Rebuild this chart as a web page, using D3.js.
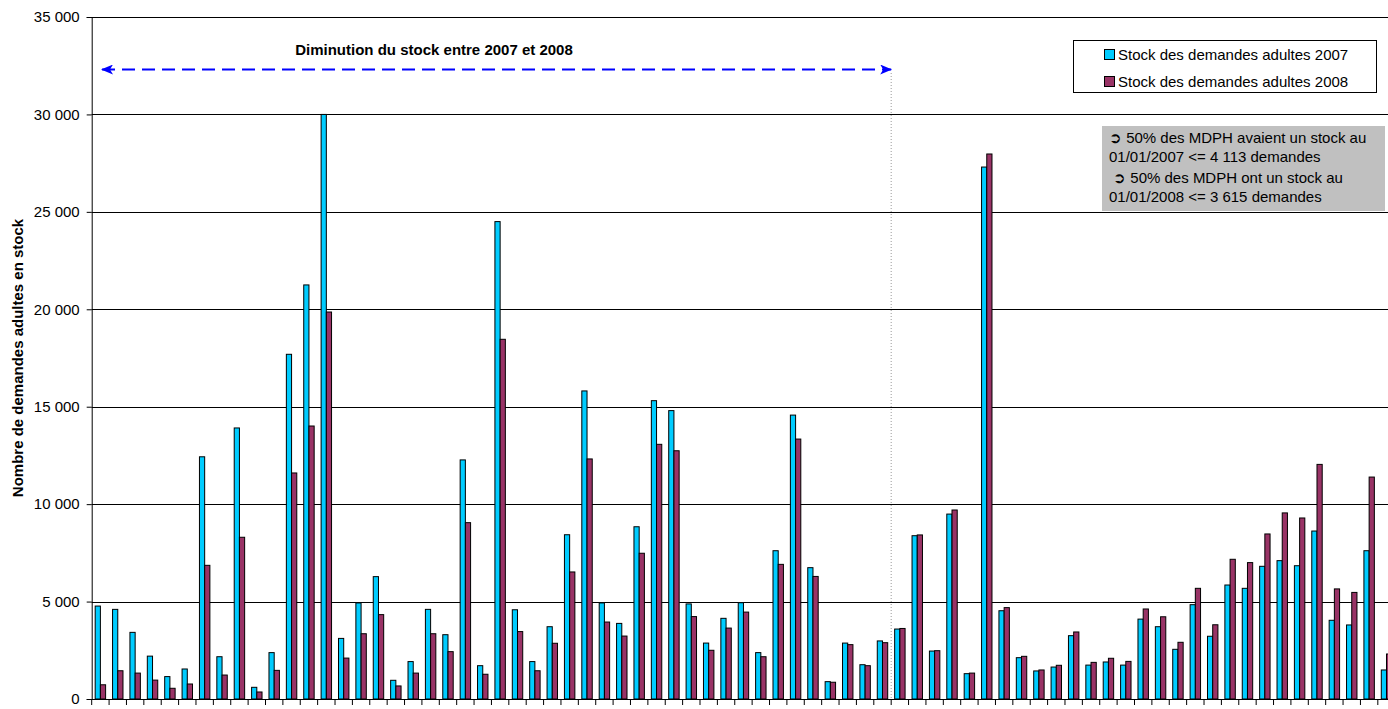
<!DOCTYPE html>
<html><head><meta charset="utf-8">
<script src="https://cdn.jsdelivr.net/npm/d3@7"></script>
<style>
html,body{margin:0;padding:0;background:#fff;}
svg{display:block;font-family:"Liberation Sans",Arial,sans-serif;}
</style></head>
<body><svg id="c" width="1388" height="709"></svg>
<script>
// --- data ---
const categories = d3.range(75).map(i => "MDPH " + (i + 1));
const stock2007 = [4770,4600,3420,2200,1150,1540,12430,2170,13910,600,
  2380,17690,21250,30000,3110,4930,6280,960,1920,4600,
  3300,12270,1710,24500,4580,1920,3710,8430,15810,4930,
  3880,8840,15310,14800,4880,2870,4140,4940,2380,7610,
  14570,6740,890,2870,1760,2980,3590,8380,2460,9490,
  1300,27300,4530,2120,1440,1640,3250,1740,1900,1740,
  4100,3710,2550,4840,3220,5850,5680,6810,7100,6840,
  8620,4040,3800,7610,1490];
const stock2008 = [730,1450,1330,970,550,770,6860,1230,8300,360,
  1470,11600,14010,19860,2100,3350,4330,670,1330,3350,
  2430,9050,1270,18460,3460,1450,2860,6520,12320,3950,
  3230,7480,13070,12740,4230,2500,3640,4460,2170,6910,
  13340,6290,860,2790,1710,2890,3620,8420,2480,9700,
  1330,27970,4690,2190,1490,1730,3440,1880,2090,1930,
  4620,4220,2910,5680,3810,7170,7000,8470,9550,9290,
  12040,5650,5470,11390,2310];
const seriesNames = ["Stock des demandes adultes 2007","Stock des demandes adultes 2008"];
const yTicks = [0,5000,10000,15000,20000,25000,30000,35000];
const yTitle = "Nombre de demandes adultes en stock";
const arrowLabel = "Diminution du stock entre 2007 et 2008";
const arrowEndCategory = 46; // boundary index where the decrease zone ends
const noteLines = ["\u27B2 50% des MDPH avaient un stock au","01/01/2007 <= 4 113 demandes"," \u27B2 50% des MDPH ont un stock au","01/01/2008 <= 3 615 demandes"];

// --- layout ---
const colors = ["#00CCFF","#993366"];
const svg = d3.select("#c");
const x0 = 91.7, step = 17.38;
const yTop = 17, yBottom = 699, plotRight = 1388;
const x = d3.scaleBand().domain(categories).range([x0, x0 + step * categories.length]).paddingInner(0.4).paddingOuter(0.2);
const xs = d3.scaleBand().domain([0,1]).range([0, x.bandwidth()]);
const y = d3.scaleLinear().domain([0,35000]).range([yBottom, yTop]);
const fmt = v => d3.format(",")(v).replace(/,/g, " ");

// gridlines
svg.append("g").selectAll("line").data(yTicks.filter(d => d > 0)).join("line")
  .attr("x1", x0).attr("x2", plotRight)
  .attr("y1", d => Math.round(y(d)) + 0.5).attr("y2", d => Math.round(y(d)) + 0.5)
  .attr("stroke", "#000").attr("stroke-width", 1);

// dotted vertical separator
const xSep = x0 + step * arrowEndCategory;
svg.append("line").attr("x1", xSep).attr("x2", xSep).attr("y1", 73).attr("y2", yBottom)
  .attr("stroke", "#999").attr("stroke-width", 1).attr("stroke-dasharray", "1,2");

// bars
const data = categories.map((c, i) => ({c, v: [stock2007[i], stock2008[i]]}));
const g = svg.append("g").selectAll("g").data(data).join("g")
  .attr("transform", d => `translate(${x(d.c)},0)`);
g.selectAll("rect").data(d => d.v.map((v, k) => ({v, k}))).join("rect")
  .attr("x", d => xs(d.k)).attr("width", xs.bandwidth())
  .attr("y", d => y(d.v)).attr("height", d => y(0) - y(d.v))
  .attr("fill", d => colors[d.k]).attr("stroke", "#000").attr("stroke-width", 1);

// axes
const yAxis = svg.append("g").attr("transform", `translate(${x0},0)`)
  .call(d3.axisLeft(y).tickValues(yTicks).tickFormat(fmt).tickSize(5).tickPadding(7));
yAxis.select(".domain").attr("stroke", "#000");
yAxis.selectAll("text").attr("font-size", 15).attr("fill", "#000").attr("font-family", "Liberation Sans, Arial, sans-serif");

const boundaries = d3.range(categories.length + 1).map(i => x0 + step * i);
svg.append("line").attr("x1", x0).attr("x2", plotRight).attr("y1", yBottom + 0.5).attr("y2", yBottom + 0.5).attr("stroke", "#000");
svg.append("g").selectAll("line").data(boundaries).join("line")
  .attr("x1", d => d).attr("x2", d => d).attr("y1", yBottom).attr("y2", yBottom + 6)
  .attr("stroke", "#000");

// y title
svg.append("text").attr("transform", "translate(23,358) rotate(-90)")
  .attr("text-anchor", "middle").attr("font-size", 15).attr("font-weight", "bold").text(yTitle);

// arrow annotation
const defs = svg.append("defs");
["s","e"].forEach(id => {
  defs.append("marker").attr("id", "m" + id).attr("viewBox", "0 0 12 10").attr("refX", 11).attr("refY", 5)
    .attr("markerWidth", 12).attr("markerHeight", 10).attr("markerUnits", "userSpaceOnUse")
    .attr("orient", "auto-start-reverse")
    .append("path").attr("d", "M0,0 L12,5 L0,10 L3,5 Z").attr("fill", "#0000FF");
});
svg.append("line").attr("x1", 102).attr("x2", xSep).attr("y1", 69.5).attr("y2", 69.5)
  .attr("stroke", "#0000FF").attr("stroke-width", 2).attr("stroke-dasharray", "13,7")
  .attr("marker-start", "url(#ms)").attr("marker-end", "url(#me)");
svg.append("text").attr("x", 434).attr("y", 55).attr("text-anchor", "middle")
  .attr("font-size", 15).attr("font-weight", "bold").text(arrowLabel);

// legend
svg.append("rect").attr("x", 1073.5).attr("y", 40.5).attr("width", 303).attr("height", 52)
  .attr("fill", "#fff").attr("stroke", "#000");
seriesNames.forEach((n, k) => {
  const yy = 49 + k * 27;
  svg.append("rect").attr("x", 1104.5).attr("y", yy + 0.5).attr("width", 10).attr("height", 10)
    .attr("fill", colors[k]).attr("stroke", "#000");
  svg.append("text").attr("x", 1118).attr("y", yy + 10.5).attr("font-size", 15).text(n);
});

// note box
svg.append("rect").attr("x", 1102).attr("y", 126).attr("width", 283).attr("height", 85).attr("fill", "#C0C0C0");
const noteBase = [143, 162, 183, 202];
noteLines.forEach((t, i) => {
  svg.append("text").attr("x", 1109).attr("y", noteBase[i])
    .attr("font-size", 15).attr("xml:space", "preserve").style("white-space", "pre").text(t);
});
</script></body></html>
